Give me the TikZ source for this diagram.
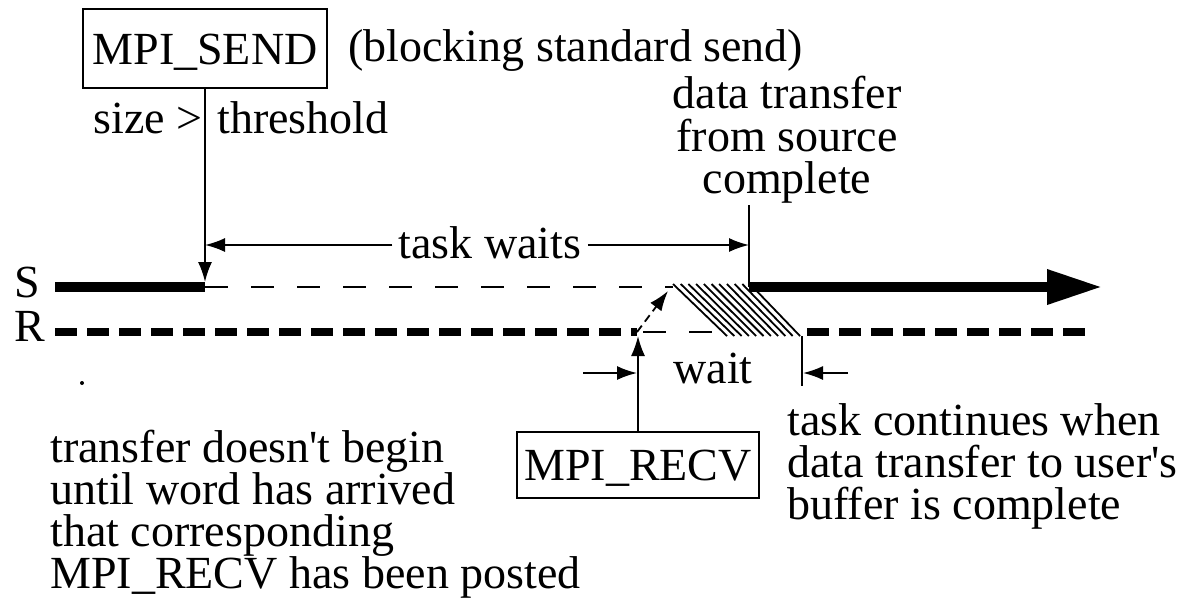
\documentclass[tikz,border=0pt]{standalone}
\usepackage{fontspec}
\setmainfont{Liberation Serif}
\newfontfamily\plainqfont{Liberation Serif}
\usetikzlibrary{arrows.meta}
\newcommand{\sq}{{\plainqfont '}}
\begin{document}
\begin{tikzpicture}[x=0.5pt,y=-0.5pt,
  txt/.style={font=\fontsize{23}{21}\selectfont, inner sep=0pt},
  box/.style={draw, line width=0.9pt, font=\fontsize{23}{21}\selectfont, inner sep=0pt, text height=15.5pt, text depth=0pt},
  thinl/.style={line width=0.9pt},
  arr/.style={thinl, -{Latex[length=10pt,width=7pt]}},
  sline/.style={line width=4.8pt},
  rline/.style={line width=3.6pt, dash pattern=on 11pt off 5pt},
  sdash/.style={thinl, dash pattern=on 11.5pt off 11.5pt},
]
\useasboundingbox (0,0) rectangle (1192,600);

% boxes
\node[box, minimum width=122pt, minimum height=39.5pt] (send) at (205,48.5) {MPI\_SEND};
\node[box, minimum width=121pt, minimum height=33pt] (recv) at (638,465) {MPI\_RECV};

% texts
\node[txt, anchor=base west] (blk) at (348,61) {(blocking standard send)};
\node[txt, anchor=base west] (size) at (93,133) {size >};
\node[txt, anchor=base west] (thr) at (217,133) {threshold};
\node[txt, anchor=base] (dt1) at (787,108) {data transfer};
\node[txt, anchor=base] (dt2) at (787,151) {from source};
\node[txt, anchor=base] (dt3) at (787,193) {complete};
\node[txt, anchor=base] (tw) at (490,258) {task waits};
\node[txt, anchor=base west] (S) at (14,297) {S};
\node[txt, anchor=base west] (R) at (14,341) {R};
\node[txt, anchor=base west] (wt) at (673,383) {wait};
\node[txt, anchor=base west] (bl1) at (50,462) {transfer doesn\sq t begin};
\node[txt, anchor=base west] (bl2) at (50,504) {until word has arrived};
\node[txt, anchor=base west] (bl3) at (50,546) {that corresponding};
\node[txt, anchor=base west] (bl4) at (50,588) {MPI\_RECV has been posted};
\node[txt, anchor=base west] (br1) at (787,435) {task continues when};
\node[txt, anchor=base west] (br2) at (787,477) {data transfer to user\sq s};
\node[txt, anchor=base west] (br3) at (787,519) {buffer is complete};

% coordinates
\coordinate (s0) at (55,287);
\coordinate (s1) at (205,287);
\coordinate (s1t) at (205,282);
\coordinate (s2) at (673,287);
\coordinate (s3) at (749,287);
\coordinate (s4) at (1102,287);
\coordinate (r0) at (55,332);
\coordinate (r1) at (637,332);
\coordinate (r1b) at (638,336);
\coordinate (r2) at (727,332);
\coordinate (r3) at (807,332);
\coordinate (r4) at (1092,332);
\coordinate (dtb) at (749,205);
\coordinate (twl) at (205,245);
\coordinate (twr) at (749,245);
\coordinate (da) at (668,291);
\coordinate (wl0) at (583,373);
\coordinate (wl1) at (637,373);
\coordinate (wr0) at (848,373);
\coordinate (wr1) at (803,373);
\coordinate (vr0) at (802,336);
\coordinate (vr1) at (802,386);

% S line
\draw[sline] (s0) -- (s1);
\draw[sdash] (s1) -- (s2);
\draw[sline, -{Triangle[length=27.5pt,width=16.5pt]}] (s3) -- (s4);

% R line
\draw[rline] (r0) -- (r1);
\draw[thinl, dash pattern=on 11.5pt off 11.5pt, dash phase=20pt] (r1) -- (r2);
\draw[rline] (r3) -- (r4);

% hatched transfer
\foreach \i in {0,...,10}
  \draw[line width=0.9pt] ({673+7.7*\i},284) -- ({727+7.3*\i},336);

% connectors
\draw[arr] (send) -- (s1t);
\draw[thinl] (dtb) -- (s3);
\draw[arr] (tw.west |- twl) ++(-6,0) -- (twl);
\draw[arr] (tw.east |- twr) ++(6,0) -- (twr);
\draw[arr, dash pattern=on 4pt off 2.5pt] (r1) -- (da);
\draw[arr] (recv) -- (r1b);
\draw[arr] (wl0) -- (wl1);
\draw[thinl] (vr0) -- (vr1);
\draw[arr] (wr0) -- (wr1);

% stray dot
\fill (82,383) circle (1pt);
\end{tikzpicture}
\end{document}
